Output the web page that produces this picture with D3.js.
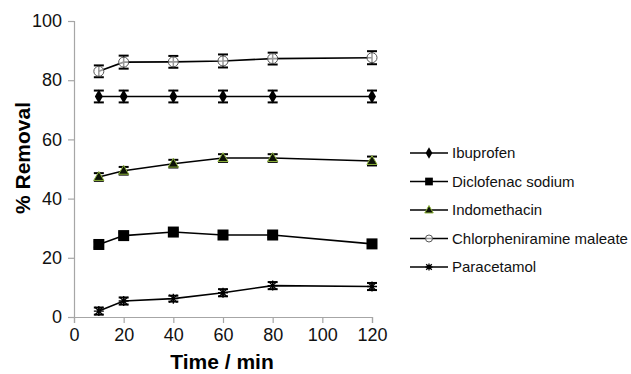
<!DOCTYPE html>
<html>
<head>
<meta charset="utf-8">
<script src="https://cdn.jsdelivr.net/npm/d3@7"></script>
<style>
  body { margin: 0; background: #fff; }
  svg text { font-family: "Liberation Sans", Arial, sans-serif; }
</style>
</head>
<body>
<div id="chart"></div>
<script>
// 時間點 (min)
const times = [10, 20, 40, 60, 80, 120];

// 各藥物的去除率
const ibuprofen = [74.5, 74.5, 74.5, 74.5, 74.5, 74.5];
const diclofenac = [24.5, 27.5, 28.7, 27.7, 27.7, 24.7];
const indomethacin = [47.3, 49.4, 51.8, 53.7, 53.7, 52.7];
const chlorpheniramine = [83.0, 86.1, 86.2, 86.5, 87.3, 87.6];
const paracetamol = [2.0, 5.4, 6.2, 8.2, 10.6, 10.3];

// 誤差
const ibuprofenErr = [2, 2, 2, 2, 2, 2];
const diclofenacErr = [1, 1, 0.8, 0.8, 0.8, 0.8];
const indomethacinErr = [1.3, 1.3, 1.3, 1.3, 1.3, 1.5];
const chlorpheniramineErr = [2, 2.2, 2, 2.2, 2, 2.2];
const paracetamolErr = [1.2, 1.2, 1, 1.2, 1.2, 1.2];

const xTicks = [0, 20, 40, 60, 80, 100, 120];
const yTicks = [0, 20, 40, 60, 80, 100];

const series = [
  { name: "Ibuprofen", values: ibuprofen, err: ibuprofenErr, marker: "diamond" },
  { name: "Diclofenac sodium", values: diclofenac, err: diclofenacErr, marker: "square" },
  { name: "Indomethacin", values: indomethacin, err: indomethacinErr, marker: "triangle" },
  { name: "Chlorpheniramine maleate", values: chlorpheniramine, err: chlorpheniramineErr, marker: "circle" },
  { name: "Paracetamol", values: paracetamol, err: paracetamolErr, marker: "star" }
];

const W = 631, H = 374;
const margin = { top: 21, left: 74, right: W - 372, bottom: H - 317 };
const width = W - margin.left - margin.right;
const height = H - margin.top - margin.bottom;

const svg = d3.select("#chart").append("svg")
  .attr("width", W).attr("height", H);

const g = svg.append("g")
  .attr("transform", `translate(${margin.left},${margin.top})`);

const x = d3.scaleLinear().domain([0, 120]).range([0, width]);
const y = d3.scaleLinear().domain([0, 100]).range([height, 0]);

// 座標軸
const xAxis = g.append("g")
  .attr("transform", `translate(0,${height})`)
  .call(d3.axisBottom(x).tickValues(xTicks).tickSize(6).tickPadding(5));
const yAxis = g.append("g")
  .call(d3.axisLeft(y).tickValues(yTicks).tickSize(6).tickPadding(6));

[xAxis, yAxis].forEach(a => {
  a.selectAll("path, line").attr("stroke", "#a6a6a6").attr("stroke-width", 1.2);
  a.selectAll("text").attr("font-size", 18).attr("fill", "#111");
});

// 軸標題
svg.append("text")
  .attr("x", 222)
  .attr("y", 369)
  .attr("text-anchor", "middle")
  .attr("font-size", 21).attr("font-weight", "bold")
  .text("Time / min");

svg.append("text")
  .attr("transform", "rotate(-90)")
  .attr("x", -158)
  .attr("y", 30)
  .attr("text-anchor", "middle")
  .attr("font-size", 21).attr("font-weight", "bold")
  .text("% Removal");

// 標記繪製
function drawMarker(sel, type, size) {
  const s = size || 1;
  if (type === "diamond") {
    sel.append("path").attr("d", d3.symbol(d3.symbolDiamond, 55 * s)())
      .attr("fill", "#000");
  } else if (type === "square") {
    sel.append("rect").attr("x", -5.5 * s).attr("y", -5.5 * s)
      .attr("width", 11 * s).attr("height", 11 * s).attr("fill", "#000");
  } else if (type === "triangle") {
    sel.append("path").attr("d", d3.symbol(d3.symbolTriangle, 45 * s)())
      .attr("transform", "translate(0,0.5)")
      .attr("fill", "#0d1208").attr("stroke", "#8db33a").attr("stroke-width", 1);
  } else if (type === "circle") {
    sel.append("circle").attr("r", 5 * s)
      .attr("fill", "#fff").attr("fill-opacity", 0.6)
      .attr("stroke", "#555").attr("stroke-width", 1);
  } else if (type === "star") {
    const r = 5 * s;
    sel.append("path")
      .attr("d", `M${-r},0H${r}M0,${-r}V${r}M${-r * 0.8},${-r * 0.8}L${r * 0.8},${r * 0.8}M${-r * 0.8},${r * 0.8}L${r * 0.8},${-r * 0.8}`)
      .attr("stroke", "#000").attr("stroke-width", 1.3).attr("fill", "none");
  }
}

const line = d3.line().x(d => x(d.t)).y(d => y(d.v));

series.forEach(s => {
  const pts = times.map((t, i) => ({ t: t, v: s.values[i], e: s.err[i] }));
  const sg = g.append("g");

  sg.append("path").datum(pts)
    .attr("d", line)
    .attr("fill", "none").attr("stroke", "#000").attr("stroke-width", 1.6);

  // 誤差線
  const eb = sg.selectAll(".err").data(pts).enter().append("g");
  eb.append("line")
    .attr("x1", d => x(d.t)).attr("x2", d => x(d.t))
    .attr("y1", d => y(d.v - d.e)).attr("y2", d => y(d.v + d.e))
    .attr("stroke", "#000").attr("stroke-width", 1.5);

  sg.selectAll(".mk").data(pts).enter().append("g")
    .attr("transform", d => `translate(${x(d.t)},${y(d.v)})`)
    .each(function () { drawMarker(d3.select(this), s.marker); });

  eb.append("line")
    .attr("x1", d => x(d.t) - 5).attr("x2", d => x(d.t) + 5)
    .attr("y1", d => y(d.v - d.e)).attr("y2", d => y(d.v - d.e))
    .attr("stroke", "#000").attr("stroke-width", 2);
  eb.append("line")
    .attr("x1", d => x(d.t) - 5).attr("x2", d => x(d.t) + 5)
    .attr("y1", d => y(d.v + d.e)).attr("y2", d => y(d.v + d.e))
    .attr("stroke", "#000").attr("stroke-width", 2);
});

// 圖例
const legend = svg.selectAll(".legend")
  .data(series)
  .enter().append("g")
  .attr("transform", (d, i) => `translate(410,${153 + i * 28.5})`);

legend.append("line")
  .attr("x1", 0).attr("x2", 38)
  .attr("stroke", "#000").attr("stroke-width", 1.6);

legend.append("g")
  .attr("transform", "translate(19,0)")
  .each(function (d) { drawMarker(d3.select(this), d.marker, 0.7); });

legend.append("text")
  .attr("x", 42).attr("y", 0).attr("dy", "0.35em")
  .attr("font-size", 15).attr("fill", "#111")
  .text(d => d.name);
</script>
</body>
</html>
